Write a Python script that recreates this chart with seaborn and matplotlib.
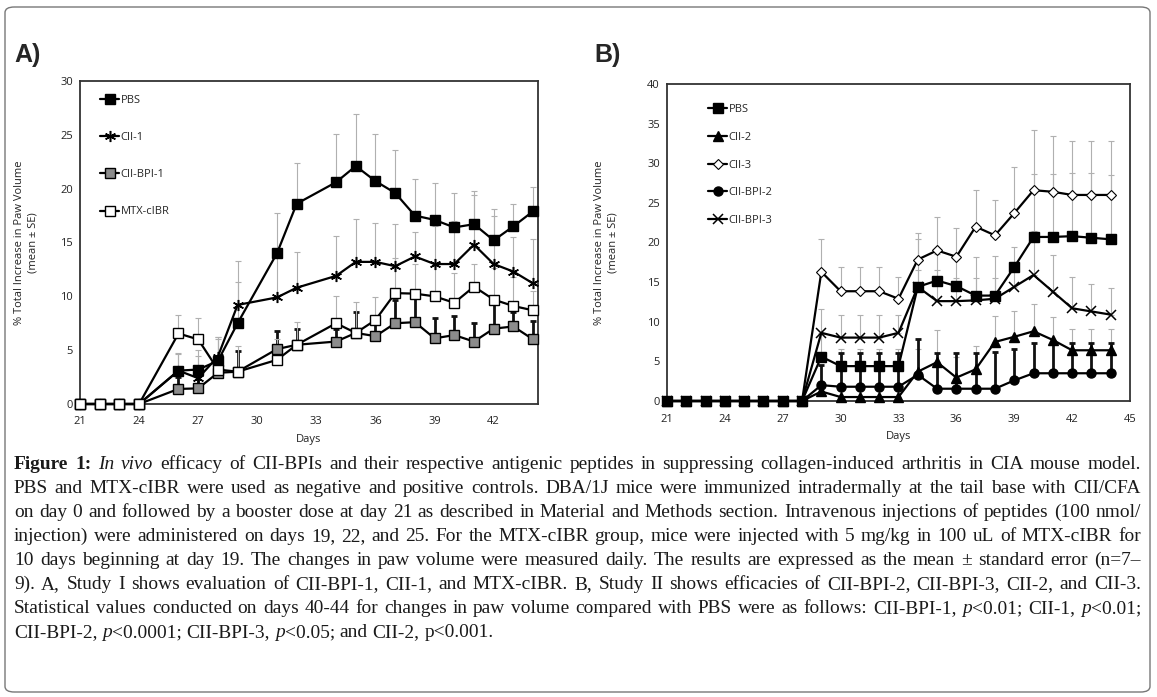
import numpy as np
import pandas as pd
import matplotlib
matplotlib.use('Agg')
import matplotlib.pyplot as plt
import seaborn as sns
from matplotlib.patches import FancyBboxPatch

# ---- panel A data (study I) ----
days_a = [21, 22, 23, 24, 26, 27, 28, 29, 31, 32, 34, 35, 36, 37, 38, 39, 40, 41, 42, 43, 44]
pbs_a = [0, 0, 0, 0, 3.1, 3.2, 4.0, 7.5, 14.0, 18.6, 20.6, 22.1, 20.7, 19.6, 17.5, 17.1, 16.4, 16.7, 15.2, 16.5, 17.9]
pbs_a_top = [0, 0, 0, 0, 4.7, 5.0, 6.2, 11.3, 17.7, 22.4, 25.1, 26.9, 25.1, 23.6, 20.9, 20.5, 19.6, 19.8, 18.1, 18.6, 20.2]
cii1_a = [0, 0, 0, 0, 3.1, 2.4, 4.4, 9.2, 9.9, 10.8, 11.9, 13.2, 13.2, 12.8, 13.7, 13.0, 13.0, 14.8, 13.0, 12.3, 11.2]
cii1_a_top = [0, 0, 0, 0, 4.6, 4.5, 6.0, 13.3, 14.1, 14.1, 15.6, 17.2, 16.8, 16.7, 16.0, 16.5, 17.0, 19.4, 17.5, 15.5, 15.3]
bpi1_a = [0, 0, 0, 0, 1.4, 1.45, 2.9, 3.0, 5.1, 5.5, 5.8, 6.6, 6.3, 7.5, 7.6, 6.1, 6.4, 5.8, 7.0, 7.2, 6.0]
bpi1_a_top = [0, 0, 0, 0, 2.5, 2.7, 4.5, 4.9, 6.8, 7.0, 7.0, 8.5, 7.4, 9.7, 9.8, 8.0, 8.2, 7.5, 9.3, 8.5, 7.7]
mtx_a = [0, 0, 0, 0, 6.55, 6.0, 3.2, 3.0, 4.1, 5.5, 7.5, 6.6, 7.8, 10.3, 10.25, 10.0, 9.4, 10.9, 9.7, 9.1, 8.7]
mtx_a_top = [0, 0, 0, 0, 8.3, 8.0, 6.2, 5.4, 6.0, 7.6, 10.0, 9.5, 9.9, 13.6, 13.0, 12.8, 12.2, 13.0, 12.6, 11.8, 10.5]

# ---- panel B data (study II) ----
days_b = [21, 22, 23, 24, 25, 26, 27, 28, 29, 30, 31, 32, 33, 34, 35, 36, 37, 38, 39, 40, 41, 42, 43, 44]
pbs_b = [0, 0, 0, 0, 0, 0, 0, 0, 5.6, 4.4, 4.4, 4.4, 4.4, 14.4, 15.2, 14.5, 13.3, 13.3, 16.9, 20.7, 20.7, 20.8, 20.6, 20.4]
pbs_b_top = [0, 0, 0, 0, 0, 0, 0, 0, 8.5, 6.5, 6.5, 6.5, 6.5, 20.5, 18.5, 18.0, 18.2, 18.3, 19.4, 28.7, 28.7, 28.8, 28.8, 28.5]
cii2_b = [0, 0, 0, 0, 0, 0, 0, 0, 1.2, 0.5, 0.5, 0.5, 0.5, 3.7, 4.9, 2.95, 4.0, 7.45, 8.1, 8.8, 7.7, 6.4, 6.4, 6.4]
cii2_b_top = [0, 0, 0, 0, 0, 0, 0, 0, 2.5, 1.5, 1.5, 1.5, 1.5, 6.5, 8.9, 5.5, 7.0, 10.7, 11.4, 12.2, 10.6, 9.1, 9.1, 9.1]
cii3_b = [0, 0, 0, 0, 0, 0, 0, 0, 16.3, 13.85, 13.85, 13.85, 12.9, 17.85, 19.0, 18.2, 22.0, 20.9, 23.7, 26.6, 26.4, 26.0, 26.0, 26.0]
cii3_b_top = [0, 0, 0, 0, 0, 0, 0, 0, 20.5, 16.9, 16.9, 16.9, 15.6, 21.2, 23.2, 21.8, 26.6, 25.3, 29.5, 34.2, 33.5, 32.8, 32.8, 32.8]
bpi2_b = [0, 0, 0, 0, 0, 0, 0, 0, 2.0, 1.8, 1.8, 1.8, 1.8, 3.3, 1.55, 1.55, 1.55, 1.55, 2.6, 3.5, 3.5, 3.5, 3.5, 3.5]
bpi2_b_top = [0, 0, 0, 0, 0, 0, 0, 0, 4.5, 6.1, 6.1, 6.1, 6.1, 7.8, 6.0, 6.0, 6.0, 6.2, 6.6, 7.3, 7.3, 7.3, 7.3, 7.3]
bpi3_b = [0, 0, 0, 0, 0, 0, 0, 0, 8.6, 8.0, 8.0, 8.0, 8.6, 14.4, 12.6, 12.6, 12.7, 12.9, 14.4, 15.9, 13.8, 11.7, 11.3, 10.9]
bpi3_b_top = [0, 0, 0, 0, 0, 0, 0, 0, 11.6, 10.8, 10.8, 10.8, 10.8, 16.5, 16.5, 15.5, 15.5, 15.5, 17.5, 21.5, 18.4, 15.6, 14.8, 14.3]

caption = [
    "*Figure* *1:* _In_ _vivo_ efficacy of CII-BPIs and their respective antigenic peptides in suppressing collagen-induced arthritis in CIA mouse model.",
    "PBS and MTX-cIBR were used as negative and positive controls. DBA/1J mice were immunized intradermally at the tail base with CII/CFA",
    "on day 0 and followed by a booster dose at day 21 as described in Material and Methods section. Intravenous injections of peptides (100 nmol/",
    "injection) were administered on days 19, 22, and 25. For the MTX-cIBR group, mice were injected with 5 mg/kg in 100 uL of MTX-cIBR for",
    "10 days beginning at day 19. The changes in paw volume were measured daily. The results are expressed as the mean \u00b1 standard error (n=7\u2013",
    "9). A, Study I shows evaluation of CII-BPI-1, CII-1, and MTX-cIBR. B, Study II shows efficacies of CII-BPI-2, CII-BPI-3, CII-2, and CII-3.",
    "Statistical values conducted on days 40-44 for changes in paw volume compared with PBS were as follows: CII-BPI-1, _p_<0.01; CII-1, _p_<0.01;",
    "CII-BPI-2, _p_<0.0001; CII-BPI-3, _p_<0.05; and CII-2, p<0.001.",
]

sns.set_style('white')
plt.rcParams['font.family'] = ['Open Sans', 'DejaVu Sans']

W, H = 1157, 697
fig = plt.figure(figsize=(W / 100, H / 100), dpi=100)

# rounded frame round the whole figure
fig.patches.append(FancyBboxPatch((5 / W, 5 / H), 1145 / W, 685 / H,
                                  boxstyle='round,pad=0,rounding_size=0.008',
                                  transform=fig.transFigure, fill=False,
                                  edgecolor='#777777', linewidth=1.0))

ax_a = fig.add_axes([80 / W, 1 - 404 / H, 458 / W, 323 / H])
ax_b = fig.add_axes([667 / W, 1 - 401 / H, 463 / W, 317 / H])

LIGHT = dict(ecolor='#b0b0b0', elinewidth=0.8, capsize=2.5, capthick=0.8)
DARK = dict(ecolor='#111111', elinewidth=2.0, capsize=2.5, capthick=2.0)


def add_series(ax, days, vals, tops, name, marker, mfc, ms, ebar, z, mew=1.0):
    d = np.array(days, float)
    v = np.array(vals, float)
    t = np.array(tops, float)
    keep = t > v
    ax.errorbar(d[keep], v[keep], yerr=[np.zeros(keep.sum()), (t - v)[keep]],
                fmt='none', zorder=1, **ebar)
    df = pd.DataFrame({'day': d, 'value': v})
    sns.lineplot(data=df, x='day', y='value', ax=ax, color='black', lw=1.6,
                 marker=marker, markersize=ms, markerfacecolor=mfc,
                 markeredgecolor='black', markeredgewidth=mew, label=name,
                 zorder=z, clip_on=False)


add_series(ax_a, days_a, pbs_a, pbs_a_top, 'PBS', 's', 'black', 7.5, LIGHT, 3)
add_series(ax_a, days_a, cii1_a, cii1_a_top, 'CII-1', (6, 2, 0), 'black', 8, LIGHT, 4, mew=1.1)
add_series(ax_a, days_a, bpi1_a, bpi1_a_top, 'CII-BPI-1', 's', '#8c8c8c', 7.5, DARK, 5)
add_series(ax_a, days_a, mtx_a, mtx_a_top, 'MTX-cIBR', 's', 'white', 7.5, LIGHT, 6)

add_series(ax_b, days_b, pbs_b, pbs_b_top, 'PBS', 's', 'black', 6.5, LIGHT, 7)
add_series(ax_b, days_b, cii2_b, cii2_b_top, 'CII-2', '^', 'black', 6.5, LIGHT, 6)
add_series(ax_b, days_b, cii3_b, cii3_b_top, 'CII-3', 'D', 'white', 5, LIGHT, 5, mew=0.8)
add_series(ax_b, days_b, bpi2_b, bpi2_b_top, 'CII-BPI-2', 'o', 'black', 6.5, DARK, 4)
add_series(ax_b, days_b, bpi3_b, bpi3_b_top, 'CII-BPI-3', 'x', 'black', 7, LIGHT, 3, mew=1.1)

for ax, xmax, ymax, xt, spacing, anchor in [
        (ax_a, 44.25, 30, [21, 24, 27, 30, 33, 36, 39, 42], 2.35, (0.035, 0.97)),
        (ax_b, 45, 40, [21, 24, 27, 30, 33, 36, 39, 42, 45], 1.5, (0.08, 0.95))]:
    ax.set_xlim(21, xmax)
    ax.set_ylim(0, ymax)
    ax.set_xticks(xt)
    ax.set_yticks(range(0, ymax + 1, 5))
    ax.tick_params(length=0, labelsize=8, colors='#222222', pad=5)
    ax.tick_params(axis='x', pad=9)
    ax.set_xlabel('Days', fontsize=8, color='#222222', labelpad=5)
    ax.set_ylabel('')
    for s in ax.spines.values():
        s.set_color('#333333')
        s.set_linewidth(1.3)
    ax.legend(loc='upper left', bbox_to_anchor=anchor, frameon=False, fontsize=8,
              handlelength=1.7, handletextpad=0.1, labelspacing=spacing,
              borderaxespad=0)

ylab = '% Total Increase in Paw Volume\n(mean \u00b1 SE)'
fig.text(26 / W, 1 - 243 / H, ylab, rotation=90, ha='center', va='center',
         fontsize=8, color='#222222', multialignment='center', linespacing=1.3)
fig.text(606 / W, 1 - 243 / H, ylab, rotation=90, ha='center', va='center',
         fontsize=8, color='#222222', multialignment='center', linespacing=1.3)

fig.text(14 / W, 1 - 55 / H, 'A)', fontsize=18, fontweight='bold', va='center',
         family=['Liberation Sans', 'DejaVu Sans'])
fig.text(594 / W, 1 - 55 / H, 'B)', fontsize=18, fontweight='bold', va='center',
         family=['Liberation Sans', 'DejaVu Sans'])

# ---- justified caption ----
renderer = fig.canvas.get_renderer()
SERIF = ['Liberation Serif', 'DejaVu Serif']


def parse(word):
    segs, buf, bold, ital = [], '', False, False
    for ch in word:
        if ch in '*_':
            if buf:
                segs.append((buf, bold, ital))
            buf = ''
            if ch == '*':
                bold = not bold
            else:
                ital = not ital
        else:
            buf += ch
    if buf:
        segs.append((buf, bold, ital))
    return segs


def make(seg, size):
    txt, bold, ital = seg
    return fig.text(0, 0, txt, fontsize=size, family=SERIF, color='#1a1a1a',
                    fontweight='bold' if bold else 'normal',
                    fontstyle='italic' if ital else 'normal', va='baseline')


def measure(line, size):
    ws = []
    for w in line.split(' '):
        arts = [make(s, size) for s in parse(w)]
        ws.append([(a, a.get_window_extent(renderer).width) for a in arts])
    return ws


# pick font size so the last (unjustified) line matches its width in the figure
n_before = len(fig.texts)
probe = measure(caption[-1], 12)
sp = make((' x', False, False), 12).get_window_extent(renderer).width - \
    make(('x', False, False), 12).get_window_extent(renderer).width
nat = sum(w for word in probe for _, w in word) + sp * (len(probe) - 1)
for a in fig.texts[n_before:]:
    a.remove()
cap_size = 12 * 476 / nat

x0, x1 = 14, 1141
base0, step = 469, 24.0
for i, line in enumerate(caption):
    words = measure(line, cap_size)
    total = sum(w for word in words for _, w in word)
    if i < len(caption) - 1:
        gap = (x1 - x0 - total) / (len(words) - 1)
    else:
        gap = sp * cap_size / 12
    x = x0
    y = 1 - (base0 + i * step) / H
    for word in words:
        for art, w in word:
            art.set_position((x / W, y))
            x += w
        x += gap

fig.savefig('out.png', dpi=100)
